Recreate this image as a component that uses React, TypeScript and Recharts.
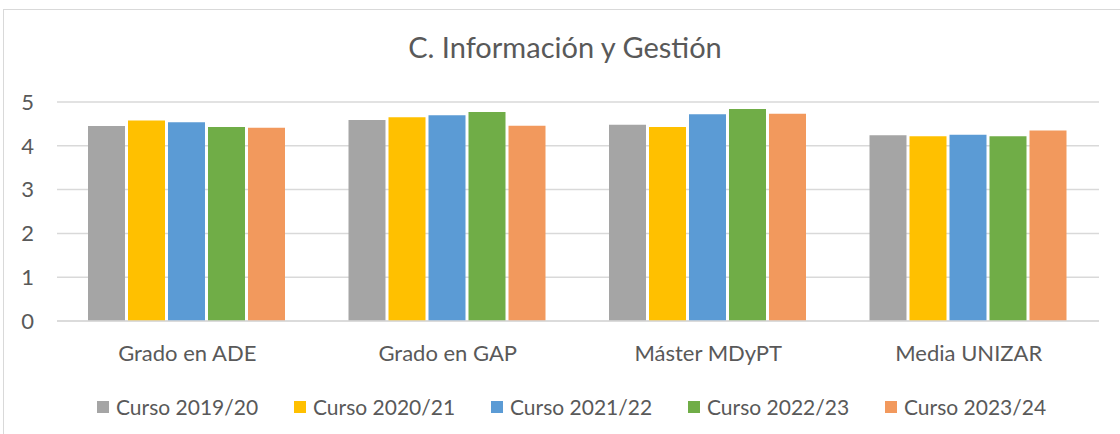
import { BarChart, Bar, XAxis, YAxis, CartesianGrid } from 'recharts'

const categories = ['Grado en ADE', 'Grado en GAP', 'Máster MDyPT', 'Media UNIZAR']
const curso1920 = [4.45, 4.59, 4.48, 4.24]
const curso2021 = [4.58, 4.65, 4.43, 4.22]
const curso2122 = [4.54, 4.7, 4.72, 4.25]
const curso2223 = [4.43, 4.77, 4.84, 4.22]
const curso2324 = [4.41, 4.46, 4.73, 4.35]
const yTicks = [0, 1, 2, 3, 4, 5]

const series = [
  { key: 'c1920', name: 'Curso 2019/20', color: '#A5A5A5', values: curso1920 },
  { key: 'c2021', name: 'Curso 2020/21', color: '#FFC000', values: curso2021 },
  { key: 'c2122', name: 'Curso 2021/22', color: '#5B9BD5', values: curso2122 },
  { key: 'c2223', name: 'Curso 2022/23', color: '#70AD47', values: curso2223 },
  { key: 'c2324', name: 'Curso 2023/24', color: '#F2995D', values: curso2324 },
]

const data = categories.map((cat, i) => {
  const row: Record<string, string | number> = { cat }
  series.forEach(s => { row[s.key] = s.values[i] })
  return row
})

const FONT = 'Lato, "Open Sans", sans-serif'
const TEXT = '#595959'

export default function App() {
  return (
    <div style={{ position: 'absolute', left: 0, top: 0, width: 1120, height: 434, overflow: 'hidden', background: '#fff', fontFamily: FONT }}>
      {/* chart frame */}
      <div style={{ position: 'absolute', left: 3, top: 9, width: 1140, height: 450, border: '1.5px solid #D9D9D9' }} />

      <svg width={1120} height={434} style={{ position: 'absolute', left: 0, top: 0, pointerEvents: 'none' }}>
        <text x={565} y={58} textAnchor="middle" fill={TEXT} fontSize={29} fontFamily={FONT}>
          C. Información y Gestión
        </text>
      </svg>

      <div style={{ position: 'absolute', left: 0, top: 0 }}>
        <BarChart
          width={1120}
          height={434}
          data={data}
          margin={{ top: 102, right: 21, bottom: 53, left: 0 }}
          barCategoryGap={31}
          barGap={3}
        >
          <CartesianGrid vertical={false} stroke="#D9D9D9" strokeWidth={1.5} />
          <XAxis
            dataKey="cat"
            axisLine={{ stroke: '#D9D9D9', strokeWidth: 1.5 }}
            tickLine={false}
            tickSize={0}
            tickMargin={24}
            height={60}
            interval={0}
            tick={{ fill: TEXT, fontSize: 22, fontFamily: FONT }}
          />
          <YAxis
            domain={[0, 5]}
            ticks={yTicks}
            interval={0}
            width={57}
            axisLine={false}
            tickLine={false}
            tickSize={0}
            tickMargin={23}
            tick={{ fill: TEXT, fontSize: 22, fontFamily: FONT }}
          />
          {series.map(s => (
            <Bar key={s.key} dataKey={s.key} name={s.name} fill={s.color} isAnimationActive={false} />
          ))}
        </BarChart>
      </div>

      {/* legend */}
      <div style={{ position: 'absolute', left: 97, top: 395, display: 'flex' }}>
        {series.map(s => (
          <div key={s.key} style={{ width: 197, display: 'flex', alignItems: 'center', height: 24 }}>
            <span style={{ display: 'inline-block', width: 12, height: 12, background: s.color, marginRight: 7 }} />
            <span style={{ color: TEXT, fontSize: 21, lineHeight: '24px', whiteSpace: 'nowrap' }}>{s.name}</span>
          </div>
        ))}
      </div>
    </div>
  )
}
